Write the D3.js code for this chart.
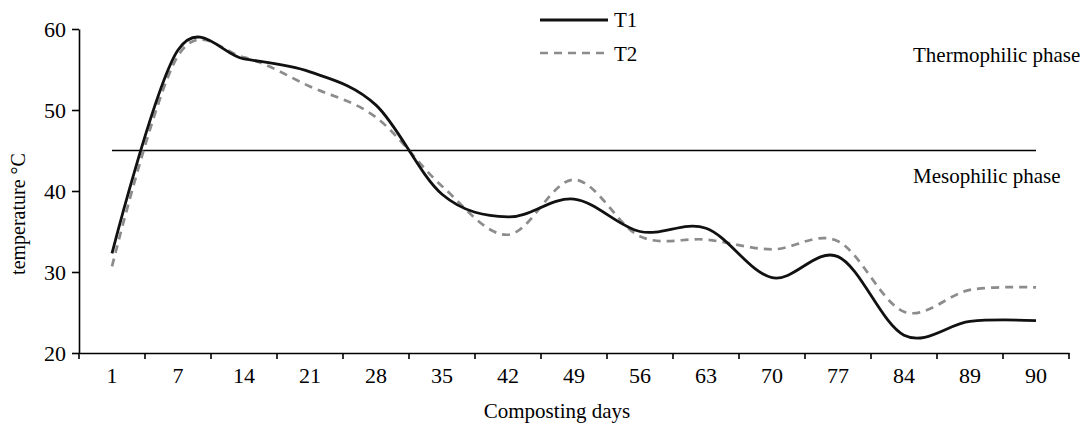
<!DOCTYPE html>
<html>
<head>
<meta charset="utf-8">
<script src="https://d3js.org/d3.v7.min.js"></script>
<style>
  body { margin: 0; background: #fff; }
  text { font-family: "Liberation Serif", "Times New Roman", serif; fill: #000; }
</style>
</head>
<body>
<svg id="chart" width="1083" height="425"></svg>
<script>
// composting days (categories)
var days = ["1","7","14","21","28","35","42","49","56","63","70","77","84","89","90"];
// temperature readings, degrees C
var t1 = [32.3, 57.4, 56.3, 54.7, 50.6, 39.6, 36.8, 39.0, 35.0, 35.4, 29.3, 31.9, 22.2, 23.9, 24.0];
var t2 = [30.7, 56.7, 56.5, 52.9, 49.1, 40.6, 34.6, 41.4, 34.4, 34.0, 32.8, 33.8, 25.1, 27.8, 28.1];
var yTicks = [20, 30, 40, 50, 60];
var threshold = 45;

var svg = d3.select("#chart");
var pLeft = 79, pRight = 1069, pTop = 29, pBottom = 353;

var x = d3.scaleBand().domain(days).range([pLeft, pRight]).padding(0);
var y = d3.scaleLinear().domain([20, 60]).range([pBottom, pTop]);
var cx = function(d) { return x(d) + x.bandwidth() / 2; };

// y axis
var yAxis = svg.append("g")
  .attr("transform", "translate(" + pLeft + ",0)")
  .call(d3.axisLeft(y).tickValues(yTicks).tickSize(7).tickSizeOuter(0).tickPadding(6));
yAxis.select(".domain").attr("stroke", "#000").attr("stroke-width", 1.6);
yAxis.selectAll(".tick line").attr("stroke", "#000").attr("stroke-width", 1.6);
yAxis.selectAll(".tick text").attr("font-size", 22).attr("font-family", "Liberation Serif").attr("fill", "#000");

// x axis, labels centered in categories, ticks between them
var xAxis = svg.append("g")
  .attr("transform", "translate(0," + pBottom + ")")
  .call(d3.axisBottom(x).tickSize(0).tickPadding(14));
xAxis.select(".domain").attr("stroke", "#000").attr("stroke-width", 1.6);
xAxis.selectAll(".tick text").attr("font-size", 22).attr("font-family", "Liberation Serif").attr("fill", "#000");
var edges = days.map(function(d) { return x(d); }).concat([pRight]);
xAxis.selectAll(".edge").data(edges).enter().append("line")
  .attr("x1", function(d) { return d; }).attr("x2", function(d) { return d; })
  .attr("y1", 0).attr("y2", 6)
  .attr("stroke", "#000").attr("stroke-width", 1.6);

// phase threshold line
svg.append("line")
  .attr("x1", cx(days[0])).attr("x2", cx(days[days.length - 1]))
  .attr("y1", y(threshold)).attr("y2", y(threshold))
  .attr("stroke", "#000").attr("stroke-width", 1.6);

var line = d3.line()
  .x(function(d, i) { return cx(days[i]); })
  .y(function(d) { return y(d); })
  .curve(d3.curveCardinal.tension(0));

svg.append("path").datum(t2)
  .attr("fill", "none").attr("stroke", "#8c8c8c").attr("stroke-width", 2.7)
  .attr("stroke-dasharray", "8,6").attr("d", line);
svg.append("path").datum(t1)
  .attr("fill", "none").attr("stroke", "#111").attr("stroke-width", 2.8)
  .attr("d", line);

// legend
svg.append("line").attr("x1", 540).attr("x2", 608).attr("y1", 20).attr("y2", 20)
  .attr("stroke", "#111").attr("stroke-width", 2.8);
svg.append("text").attr("x", 614).attr("y", 27).attr("font-size", 21).text("T1");
svg.append("line").attr("x1", 540).attr("x2", 608).attr("y1", 53).attr("y2", 53)
  .attr("stroke", "#8c8c8c").attr("stroke-width", 2.7).attr("stroke-dasharray", "8,6");
svg.append("text").attr("x", 614).attr("y", 61).attr("font-size", 21).text("T2");

// phase labels
svg.append("text").attr("x", 913).attr("y", 62).attr("font-size", 21).text("Thermophilic phase");
svg.append("text").attr("x", 913).attr("y", 183).attr("font-size", 21).text("Mesophilic phase");

// axis titles
svg.append("text")
  .attr("transform", "translate(25,214) rotate(-90)")
  .attr("text-anchor", "middle").attr("font-size", 20)
  .text("temperature °C");
svg.append("text")
  .attr("x", 557).attr("y", 418)
  .attr("text-anchor", "middle").attr("font-size", 21)
  .text("Composting days");
</script>
</body>
</html>
